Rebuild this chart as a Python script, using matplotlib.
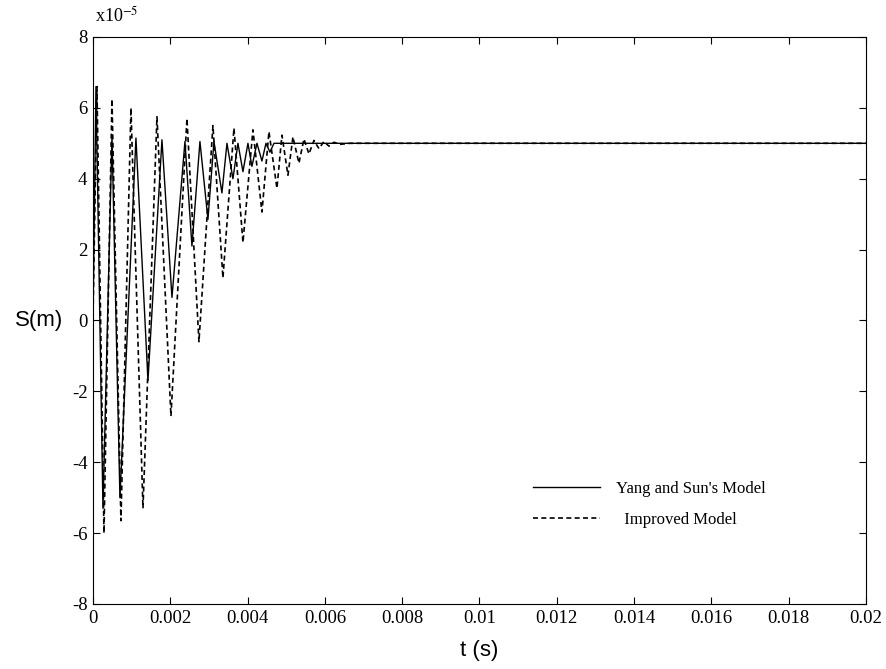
import matplotlib
matplotlib.use("Agg")
import matplotlib.pyplot as plt
from matplotlib.ticker import FixedLocator, FixedFormatter

# Yang and Sun's model (t in s, S in 1e-5 m), read at the turning points
t_yang = [0, 7.8e-5, 2.59e-4, 4.92e-4, 6.98e-4, 1.112e-3, 1.423e-3, 1.785e-3,
          2.044e-3, 2.380e-3, 2.561e-3, 2.768e-3, 2.975e-3, 3.130e-3, 3.337e-3,
          3.467e-3, 3.622e-3, 3.751e-3, 3.881e-3, 4.010e-3, 4.113e-3, 4.243e-3,
          4.372e-3, 4.476e-3, 4.579e-3, 4.683e-3, 0.02]
s_yang = [0, 6.6, -5.3, 5.2, -5.0, 5.15, -1.7, 5.1,
          0.65, 5.05, 2.1, 5.05, 2.85, 5.05, 3.6,
          5.0, 4.0, 5.0, 4.2, 5.0, 4.35, 5.0,
          4.5, 5.0, 4.75, 5.0, 5.0]

# Improved model
t_impr = [0, 1.03e-4, 2.85e-4, 4.92e-4, 7.24e-4, 9.83e-4, 1.294e-3, 1.656e-3,
          2.018e-3, 2.432e-3, 2.742e-3, 3.104e-3, 3.363e-3, 3.648e-3, 3.881e-3,
          4.139e-3, 4.372e-3, 4.553e-3, 4.760e-3, 4.889e-3, 5.045e-3, 5.174e-3,
          5.329e-3, 5.459e-3, 5.588e-3, 5.717e-3, 5.847e-3, 5.976e-3, 6.105e-3,
          6.235e-3, 6.390e-3, 6.649e-3, 0.02]
s_impr = [0, 6.6, -6.0, 6.25, -5.65, 6.0, -5.3, 5.75,
          -2.7, 5.7, -0.6, 5.5, 1.2, 5.43, 2.2,
          5.38, 3.06, 5.33, 3.73, 5.23, 4.1, 5.18,
          4.44, 5.12, 4.7, 5.08, 4.85, 5.05, 4.92,
          5.03, 4.97, 5.0, 5.0]

x_ticks = [0, 0.002, 0.004, 0.006, 0.008, 0.01, 0.012, 0.014, 0.016, 0.018, 0.02]
x_labels = ["0", "0.002", "0.004", "0.006", "0.008", "0.01", "0.012", "0.014",
            "0.016", "0.018", "0.02"]
y_ticks = [-8, -6, -4, -2, 0, 2, 4, 6, 8]
y_labels = ["-8", "-6", "-4", "-2", "0", "2", "4", "6", "8"]

serif = ["Liberation Serif", "DejaVu Serif"]
sans = ["Liberation Sans", "DejaVu Sans"]
plt.rcParams["mathtext.fontset"] = "stix"

fig = plt.figure(figsize=(8.87, 6.69), dpi=100)
ax = fig.add_axes([0.1048, 0.0972, 0.8715, 0.8475])

ax.plot(t_yang, s_yang, color="black", lw=1.0, label="Yang and Sun's Model")
ax.plot(t_impr, s_impr, color="black", lw=1.2, dashes=(3, 2), label="  Improved Model")

ax.set_xlim(0, 0.02)
ax.set_ylim(-8, 8)
ax.xaxis.set_major_locator(FixedLocator(x_ticks))
ax.xaxis.set_major_formatter(FixedFormatter(x_labels))
ax.yaxis.set_major_locator(FixedLocator(y_ticks))
ax.yaxis.set_major_formatter(FixedFormatter(y_labels))
ax.tick_params(direction="in", length=5, width=0.8, top=True, right=True,
               labelsize=13.5, pad=4)
for lab in ax.get_xticklabels() + ax.get_yticklabels():
    lab.set_family(serif)
for sp in ax.spines.values():
    sp.set_linewidth(0.8)

ax.text(0.002, 1.02, r"x10$^{\mathrm{-5}}$", transform=ax.transAxes, ha="left",
        va="bottom", fontsize=13, family=serif)

ax.set_xlabel("t (s)", fontsize=16, family=sans, labelpad=10)
ax.set_ylabel("S(m)", fontsize=16, family=sans, rotation=0, va="center")
ax.yaxis.set_label_coords(-0.07, 0.5)

leg = ax.legend(loc="lower right", bbox_to_anchor=(0.89, 0.108), frameon=False,
                handlelength=4.0, handletextpad=1.0, labelspacing=0.9,
                prop={"family": serif, "size": 12})

fig.savefig("out.png", dpi=100)
